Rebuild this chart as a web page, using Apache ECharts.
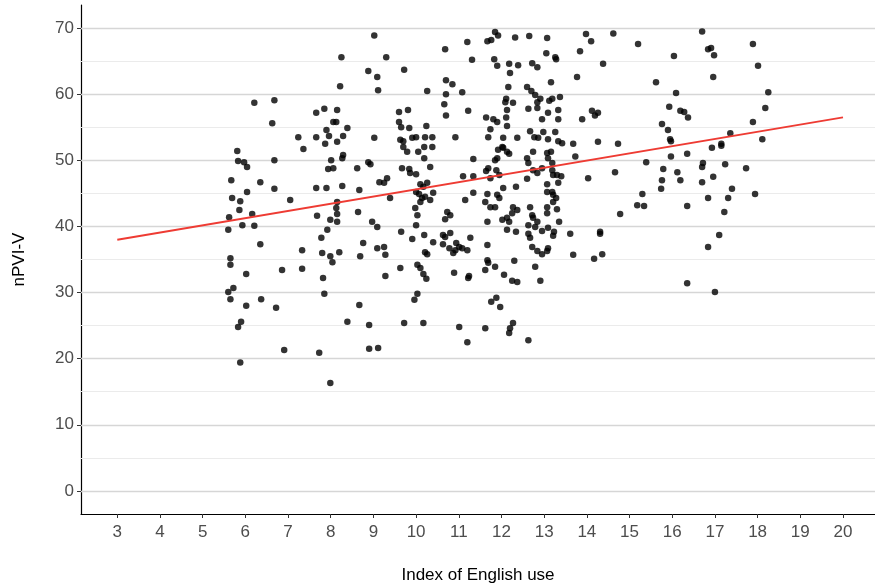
<!DOCTYPE html>
<html>
<head>
<meta charset="utf-8">
<script src="https://cdn.jsdelivr.net/npm/echarts@6/dist/echarts.min.js"></script>
<style>
  html, body { margin: 0; padding: 0; background: #fff; }
  #chart { width: 875px; height: 587px; }
</style>
</head>
<body>
<div id="chart"></div>
<script>
// index of English use vs nPVI-V, one point per speaker
var speakers = [
  [9.02,68.9],[8.25,65.6],[8.88,63.5],[9.09,62.6],[8.22,61.2],[9.11,60.6],[6.21,58.7],[6.68,59.1],
  [7.66,57.2],[7.85,57.8],[8.15,57.6],[6.63,55.6],[8.06,55.8],[8.13,55.8],[7.9,54.6],[8.39,54.9],
  [7.24,53.5],[7.66,53.5],[7.96,53.7],[8.29,53.7],[9.02,53.4],[7.87,52.5],[8.15,52.8],
  [5.81,51.4],[7.36,51.7],[5.83,49.9],[5.97,49.7],[6.04,49.0],[6.68,50.0],[8.01,50.0],[8.29,50.8],
  [8.27,50.3],[7.94,48.7],[8.06,48.8],[8.62,48.8],[8.88,49.7],[8.93,49.4],[5.67,47.0],[6.35,46.7],
  [6.04,45.2],[6.68,45.7],[7.66,45.8],[7.9,45.8],[8.27,46.1],[8.67,45.5],[9.14,46.7],[5.69,44.3],
  [5.88,43.8],[7.05,44.0],[8.15,43.7],[8.13,42.8],[5.86,42.5],[6.16,41.9],[7.68,41.6],[8.15,41.9],
  [8.64,42.2],[5.62,41.4],[5.93,40.2],[6.21,40.1],[5.6,39.5],[7.99,41.0],[8.15,40.7],[7.92,39.5],
  [8.97,40.7],[9.09,39.9],[7.78,38.3],[6.35,37.3],[8.76,37.5],[9.09,36.7],[7.33,36.4],[7.8,36.0],
  [7.99,35.5],[8.2,36.1],[8.69,35.5],[8.04,34.6],[5.65,35.2],[5.65,34.2],[6.86,33.4],[7.33,33.6],
  [6.02,32.8],[7.82,32.2],[5.6,30.1],[5.72,30.7],[5.65,29.0],[7.85,29.8],[6.02,28.0],[6.37,29.0],
  [6.72,27.7],[8.67,28.1],[5.9,25.6],[5.83,24.8],[8.39,25.6],[8.9,25.1],[6.91,21.3],[7.73,20.9],
  [8.9,21.5],[9.11,21.6],[5.88,19.4],[7.99,16.3],
  [11.85,69.4],[11.92,68.9],[12.32,68.6],[12.65,68.8],[11.2,67.9],[11.67,68.0],[11.76,68.2],
  [10.68,66.8],[9.3,65.6],[11.31,65.2],[11.83,65.3],[11.9,64.3],[12.18,64.6],[12.39,64.4],
  [12.72,64.7],[12.84,64.1],[13.05,66.2],[9.72,63.7],[12.2,63.2],[10.7,62.1],[10.85,61.5],
  [12.16,61.1],[12.6,61.1],[12.7,60.5],[10.26,60.5],[10.7,60.0],[11.08,60.3],[12.79,59.9],
  [12.84,58.8],[12.11,59.3],[12.09,58.8],[12.27,58.7],[12.91,59.3],[10.66,58.5],[11.22,57.5],
  [12.63,57.8],[12.84,57.9],[9.6,57.3],[9.81,57.6],[12.13,57.6],[12.11,56.5],[11.64,56.5],
  [11.81,56.2],[11.9,55.8],[10.7,56.8],[12.95,56.2],[9.6,55.8],[9.65,55.0],[9.84,54.9],
  [10.24,55.2],[12.13,55.2],[11.74,54.7],[12.67,54.4],[11.69,53.5],[9.63,53.1],[9.7,52.9],
  [9.91,53.4],[10.0,53.5],[10.21,53.5],[10.38,53.5],[10.92,53.5],[12.04,53.4],[12.37,53.4],
  [12.77,53.5],[12.86,53.4],[12.98,54.3],
  [13.98,69.1],[14.1,68.0],[14.62,69.2],[16.7,69.5],[15.2,67.6],[16.84,66.8],[13.07,68.5],
  [13.84,66.5],[13.26,65.6],[13.28,65.3],[14.38,64.6],[16.04,65.8],[13.16,61.8],[13.77,62.6],
  [15.62,61.8],[16.09,60.2],[13.12,59.0],[13.19,59.3],[13.37,59.6],[13.09,57.2],[13.33,57.6],
  [13.33,56.2],[13.89,56.2],[14.12,57.5],[14.19,56.8],[14.26,57.2],[15.93,58.1],[16.19,57.5],
  [16.28,57.3],[16.37,56.5],[15.76,55.5],[15.9,54.6],[15.95,53.2],[15.97,52.9],[13.26,54.3],
  [13.33,52.9],[13.42,52.6],[13.68,52.5],[14.26,52.8],[14.73,52.5],[13.09,53.2],
  [16.91,67.0],[16.98,65.9],[17.89,67.6],[18.01,64.3],[16.96,62.6],[18.25,60.3],[18.18,57.9],
  [17.89,55.8],[17.36,54.1],[18.11,53.2],[17.15,52.5],
  [9.7,52.0],[9.79,51.3],[10.05,51.3],[10.19,52.0],[10.38,52.0],[10.19,50.3],[9.67,48.8],
  [9.84,48.7],[9.86,48.1],[10.0,47.9],[10.33,49.0],[9.32,47.3],[9.25,46.6],[11.34,50.2],
  [11.1,47.6],[11.34,47.6],[11.64,48.4],[11.69,48.8],[11.85,50.0],[11.9,50.3],[11.74,47.3],
  [11.88,48.5],[11.95,47.8],[11.92,51.6],[12.04,51.9],[12.13,51.3],[12.18,51.0],[12.02,52.0],
  [12.6,50.3],[12.63,49.6],[12.74,51.3],[12.74,48.5],[12.84,48.1],[12.6,47.2],[12.95,48.8],
  [10.1,46.4],[10.17,46.0],[10.26,46.6],[10.0,45.2],[10.07,44.9],[10.14,44.3],[10.21,44.5],
  [10.33,44.0],[10.4,45.1],[10.1,43.7],[9.39,44.3],[11.34,45.1],[11.15,44.0],[11.67,44.9],
  [11.62,43.7],[11.74,42.9],[11.85,42.9],[11.9,44.8],[11.95,44.3],[12.04,45.8],[12.34,46.0],
  [12.27,42.9],[12.37,42.5],[12.25,42.0],[12.13,41.3],[12.02,41.0],[12.18,40.7],[12.13,39.5],
  [12.34,39.2],[12.67,42.9],[12.72,41.7],[12.74,41.3],[12.63,40.2],[12.79,39.9],[12.84,40.7],
  [12.95,39.3],[9.98,42.8],[10.03,41.7],[10.0,40.2],[10.73,42.2],[10.8,41.7],[10.68,41.1],
  [11.67,40.7],[9.65,39.2],[9.91,38.1],[10.19,38.7],[10.4,37.6],[10.63,38.7],[10.68,38.4],
  [10.8,39.0],[11.27,38.3],[10.63,37.3],[10.78,36.7],[10.94,37.5],[10.92,36.4],[11.01,36.9],
  [11.08,36.7],[11.2,36.4],[10.87,36.0],[10.21,36.1],[10.26,35.8],[11.67,37.2],[11.67,34.9],
  [11.69,34.5],[12.3,34.8],[9.25,36.9],[9.28,35.7],[12.63,38.9],[12.67,38.3],[12.72,36.9],
  [12.84,36.3],[12.95,35.8],[12.79,33.9],[10.03,34.2],[10.1,33.7],[9.63,33.7],[11.85,33.9],
  [9.28,32.5],[10.17,32.8],[10.24,32.1],[10.89,33.0],[11.24,32.5],[11.22,32.2],[11.62,33.4],
  [12.06,32.7],[12.25,31.8],[12.37,31.6],[12.91,31.8],[10.03,29.8],[9.96,28.9],[11.76,28.6],
  [11.88,29.2],[11.97,27.8],[9.72,25.4],[10.17,25.4],[11.01,24.8],[11.62,24.6],[11.2,22.5],
  [12.27,25.4],[12.2,24.6],[12.18,23.9],[12.63,22.8],
  [13.73,50.6],[13.07,51.1],[13.09,50.3],[13.16,51.3],[13.19,49.6],[13.19,48.5],[13.21,47.8],
  [13.3,47.8],[13.4,47.6],[13.33,46.6],[14.03,47.3],[14.66,48.2],[15.39,49.7],[15.97,50.6],
  [16.35,51.0],[16.72,49.6],[16.7,49.0],[15.79,48.7],[16.12,48.2],[15.76,47.0],[16.19,47.0],
  [16.7,46.7],[15.74,45.7],[13.07,46.4],[13.07,45.2],[13.19,45.2],[13.21,44.8],[13.28,44.3],
  [13.21,43.7],[15.3,44.9],[15.18,43.2],[15.34,43.1],[16.35,43.1],[16.84,44.3],[13.07,42.9],
  [13.3,42.6],[13.07,42.0],[14.78,41.9],[13.35,40.7],[13.09,39.8],[13.23,39.2],[13.21,38.6],
  [13.61,38.9],[14.31,39.2],[14.31,38.9],[13.09,36.7],[13.07,36.3],[13.68,35.7],[14.17,35.1],
  [14.36,35.8],[16.84,36.9],[16.35,31.4],
  [16.93,51.9],[17.15,52.2],[17.24,49.4],[17.73,48.8],[16.96,47.5],[17.4,45.7],[17.31,44.3],
  [17.94,44.9],[17.22,42.2],[17.1,38.7],[17.0,30.1]
];

// fitted line, read at both ends
var fitLine = [[3, 38.0], [20, 56.5]];

var xTicks = [3,4,5,6,7,8,9,10,11,12,13,14,15,16,17,18,19,20];
var yTicks = [0,10,20,30,40,50,60,70];
var yMinorTicks = [5,15,25,35,45,55,65];

var gridLines = yTicks.map(function (v) {
    return { yAxis: v, lineStyle: { color: '#d6d6d6', width: 1.4, type: 'solid' } };
}).concat(yMinorTicks.map(function (v) {
    return { yAxis: v, lineStyle: { color: '#ebebeb', width: 1, type: 'solid' } };
}));

var chart = echarts.init(document.getElementById('chart'));
var option = {
    animation: false,
    backgroundColor: '#fff',
    textStyle: { fontFamily: 'Liberation Sans' },
    grid: { left: 81, right: 0, top: 5, bottom: 73, outerBoundsMode: 'none' },
    xAxis: {
        type: 'value',
        min: 2.15,
        max: 20.75,
        name: 'Index of English use',
        nameLocation: 'middle',
        nameGap: 53,
        nameTextStyle: { color: '#000', fontSize: 17 },
        axisLine: { show: true, onZero: false, lineStyle: { color: '#000', width: 1.2 } },
        axisTick: { show: true, length: 4, customValues: xTicks, lineStyle: { color: '#333' } },
        axisLabel: { customValues: xTicks, color: '#4d4d4d', fontSize: 17, margin: 10 },
        splitLine: { show: false }
    },
    yAxis: {
        type: 'value',
        min: -3.5,
        max: 73.5,
        name: 'nPVI-V',
        nameLocation: 'middle',
        nameRotate: 90,
        nameGap: 53,
        nameTextStyle: { color: '#000', fontSize: 17 },
        axisLine: { show: true, onZero: false, lineStyle: { color: '#000', width: 1.2 } },
        axisTick: { show: true, length: 4, customValues: yTicks, lineStyle: { color: '#333' } },
        axisLabel: { customValues: yTicks, color: '#4d4d4d', fontSize: 17, margin: 7 },
        splitLine: { show: false }
    },
    series: [
        {
            type: 'scatter',
            data: speakers,
            symbolSize: 6.5,
            itemStyle: { color: '#000' },
            z: 3,
            markLine: {
                silent: true,
                symbol: 'none',
                label: { show: false },
                lineStyle: { type: 'solid' },
                data: gridLines,
                z: 1
            }
        },
        {
            type: 'line',
            data: fitLine,
            showSymbol: false,
            lineStyle: { color: '#ee3b33', width: 2 },
            z: 4
        }
    ]
};
chart.setOption(option);
window.onresize = chart.resize;
</script>
</body>
</html>
